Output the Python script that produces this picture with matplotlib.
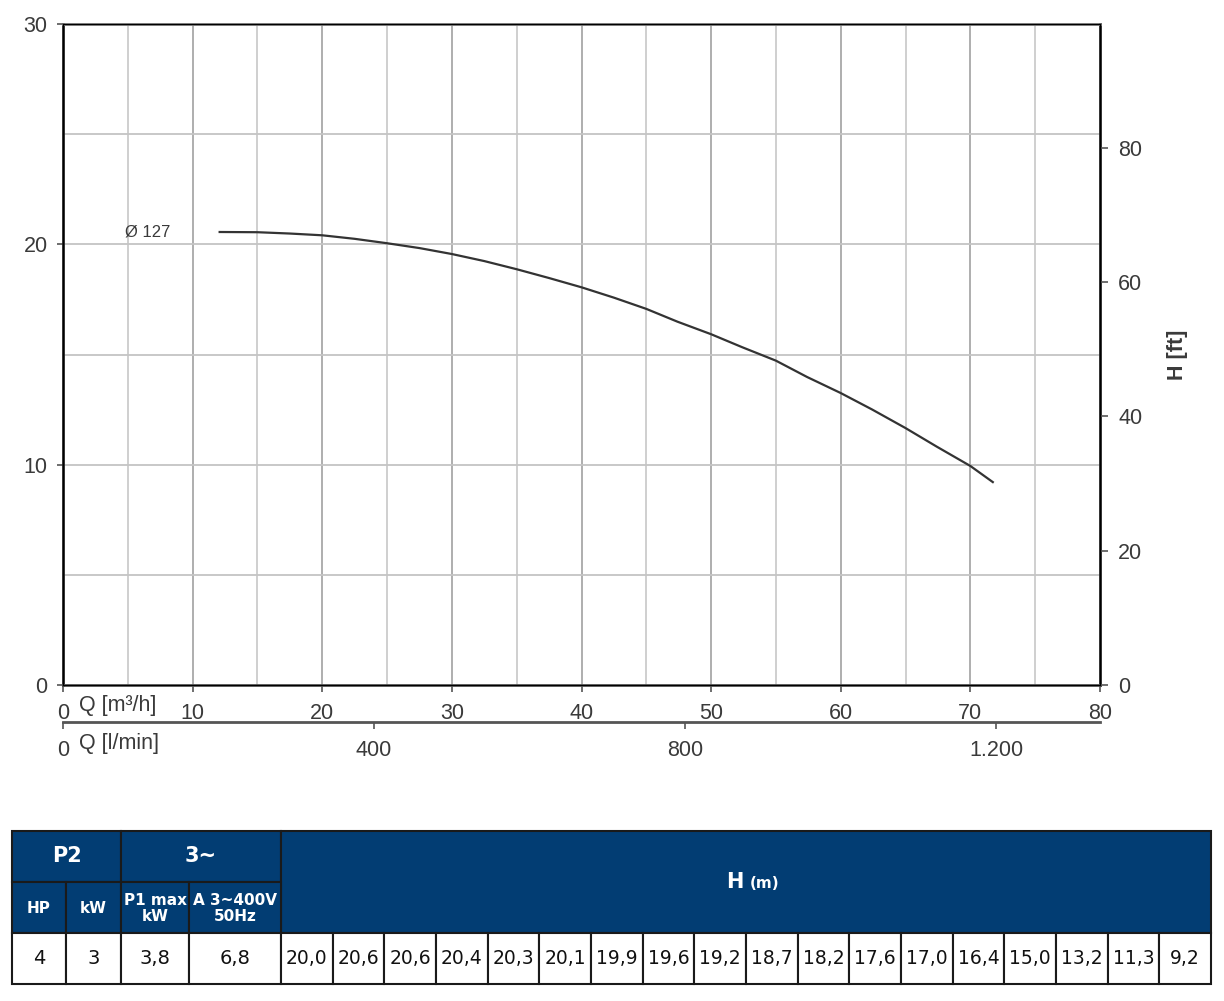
import numpy as np
import matplotlib
matplotlib.use('Agg')
from matplotlib import pyplot as plt
from matplotlib.patches import Rectangle

# pump curve (m3/h -> m)
q_curve = [12, 15, 17.5, 20, 22.5, 25, 27.5, 30, 32.5, 35, 37.5, 40, 42.5, 45, 47.4, 50,
           52.4, 55, 57.4, 60, 62.4, 65, 67.4, 70, 71.8]
h_curve = [20.56, 20.55, 20.49, 20.41, 20.25, 20.05, 19.83, 19.56, 19.24, 18.87, 18.47, 18.05, 17.58, 17.07, 16.49, 15.92,
           15.33, 14.72, 13.98, 13.25, 12.51, 11.66, 10.82, 9.94, 9.18]
curve_label = 'Ø 127'

# table
p2_hp = '4'
p2_kw = '3'
p1_max = '3,8'
amps = '6,8'
h_table = ['20,0', '20,6', '20,6', '20,4', '20,3', '20,1', '19,9', '19,6', '19,2',
           '18,7', '18,2', '17,6', '17,0', '16,4', '15,0', '13,2', '11,3', '9,2']

x_ticks = [0, 10, 20, 30, 40, 50, 60, 70, 80]
lmin_ticks = [0, 400, 800, 1200]
lmin_labels = ['0', '400', '800', '1.200']
ft_ticks = [0, 20, 40, 60, 80]
y_ticks = [0, 10, 20, 30]

W, H = 1224, 1001
fig = plt.figure(figsize=(W / 100, H / 100), dpi=100)
plt.rcParams['font.family'] = ['Liberation Sans', 'DejaVu Sans']
txt = '#3a3a3a'
fs = 15.5

def fx(px):
	return px / W

def fy(py):
	return 1 - py / H

ax = fig.add_axes([fx(63), fy(685), fx(1100) - fx(63), fy(24) - fy(685)])
ax.set_xlim(0, 80)
ax.set_ylim(0, 30)
for q in range(5, 80, 5):
	ax.axvline(q, color='#a8a8a8' if q % 10 == 0 else '#cccccc', lw=1.3, zorder=1)
for h in range(5, 30, 5):
	ax.axhline(h, color='#c4c4c4', lw=1.3, zorder=1)
ax.plot(q_curve, h_curve, color='#333333', lw=1.6, zorder=3, solid_capstyle='butt', solid_joinstyle='round')
ax.text(q_curve[0] - 3.7, h_curve[0], curve_label, fontsize=12, color=txt, ha='right', va='center')

ax.set_xticks(x_ticks)
ax.set_xticklabels([str(v) for v in x_ticks])
ax.set_yticks(y_ticks)
ax.tick_params(axis='x', direction='out', length=5, width=1.2, color='#555555', labelsize=fs, labelcolor=txt, pad=8)
ax.tick_params(axis='y', direction='out', length=4, width=1.2, color='#555555', labelsize=fs, labelcolor=txt, pad=7)
ax.spines['top'].set_color('#777777')
ax.spines['top'].set_linewidth(2)
ax.spines['bottom'].set_color('#555555')
ax.spines['bottom'].set_linewidth(2)
ax.spines['left'].set_color('#222222')
ax.spines['left'].set_linewidth(2)
ax.spines['right'].set_color('#222222')
ax.spines['right'].set_linewidth(2)
fig.text(fx(79), fy(706), 'Q [m³/h]', fontsize=fs, color=txt, ha='left', va='center')

axr = ax.twinx()
axr.set_ylim(0, 30 * 3.2808)
axr.set_yticks(ft_ticks)
axr.tick_params(axis='y', direction='out', length=6, width=1.2, color='#555555', labelsize=fs, labelcolor=txt, pad=7)
axr.set_ylabel('H [ft]', fontsize=fs, color=txt, fontweight='bold', labelpad=18)

# l/min axis
ax2 = fig.add_axes([fx(63), fy(722), fx(1100) - fx(63), 0.0001])
ax2.set_xlim(0, 80 * 1000 / 60)
ax2.set_ylim(0, 1)
ax2.set_yticks([])
for s in ['top', 'left', 'right']:
	ax2.spines[s].set_visible(False)
ax2.spines['bottom'].set_color('#555555')
ax2.spines['bottom'].set_linewidth(2)
ax2.set_xticks(lmin_ticks)
ax2.set_xticklabels(lmin_labels)
ax2.tick_params(axis='x', direction='out', length=5, width=1.2, color='#555555', labelsize=fs, labelcolor=txt, pad=8)
fig.text(fx(79), fy(743), 'Q [l/min]', fontsize=fs, color=txt, ha='left', va='center')

# table
tb = fig.add_axes([0, 0, 1, 1])
tb.set_xlim(0, W)
tb.set_ylim(H, 0)
tb.axis('off')
blue = '#023d73'
edge = '#1a1a1a'
tfont = ['DejaVu Sans']
cols = [12, 66, 121, 189, 281]
hw = (1211 - 281) / len(h_table)
rows = [831, 882, 933, 984]

def cell(x0, y0, x1, y1, fill):
	tb.add_patch(Rectangle((x0, y0), x1 - x0, y1 - y0, facecolor=fill, edgecolor=edge, lw=1.5))

cell(cols[0], rows[0], cols[2], rows[1], blue)
cell(cols[2], rows[0], cols[4], rows[1], blue)
cell(cols[4], rows[0], 1211, rows[2], blue)
for i in range(4):
	cell(cols[i], rows[1], cols[i + 1], rows[2], blue)
	cell(cols[i], rows[2], cols[i + 1], rows[3], 'white')
for i in range(len(h_table)):
	cell(281 + i * hw, rows[2], 281 + (i + 1) * hw, rows[3], 'white')

def mid(a, b):
	return (a + b) / 2

tb.text(mid(cols[0], cols[2]), mid(rows[0], rows[1]), 'P2', color='white', fontsize=15, fontweight='bold', ha='center', va='center', family=tfont)
tb.text(mid(cols[2], cols[4]), mid(rows[0], rows[1]), '3~', color='white', fontsize=15, fontweight='bold', ha='center', va='center', family=tfont)
heads = ['HP', 'kW', 'P1 max\nkW', 'A 3~400V\n50Hz']
for i, hd in enumerate(heads):
	tb.text(mid(cols[i], cols[i + 1]), mid(rows[1], rows[2]) + 1, hd, color='white', fontsize=11,
		fontweight='semibold', ha='center', va='center', family=tfont, linespacing=1.1)
tb.text(mid(281, 1211) - 3, mid(rows[0], rows[2]), 'H', color='white', fontsize=15, fontweight='bold', ha='right', va='center', family=tfont)
tb.text(mid(281, 1211) + 4, mid(rows[0], rows[2]) + 1, '(m)', color='white', fontsize=11, fontweight='bold', ha='left', va='center', family=tfont)
vals = [p2_hp, p2_kw, p1_max, amps]
for i, v in enumerate(vals):
	tb.text(mid(cols[i], cols[i + 1]), mid(rows[2], rows[3]), v, color='#111111', fontsize=14, ha='center', va='center', family=tfont)
for i, v in enumerate(h_table):
	tb.text(281 + (i + 0.5) * hw, mid(rows[2], rows[3]), v, color='#111111', fontsize=13.5, ha='center', va='center', family=tfont)

fig.savefig('out.png', dpi=100)
